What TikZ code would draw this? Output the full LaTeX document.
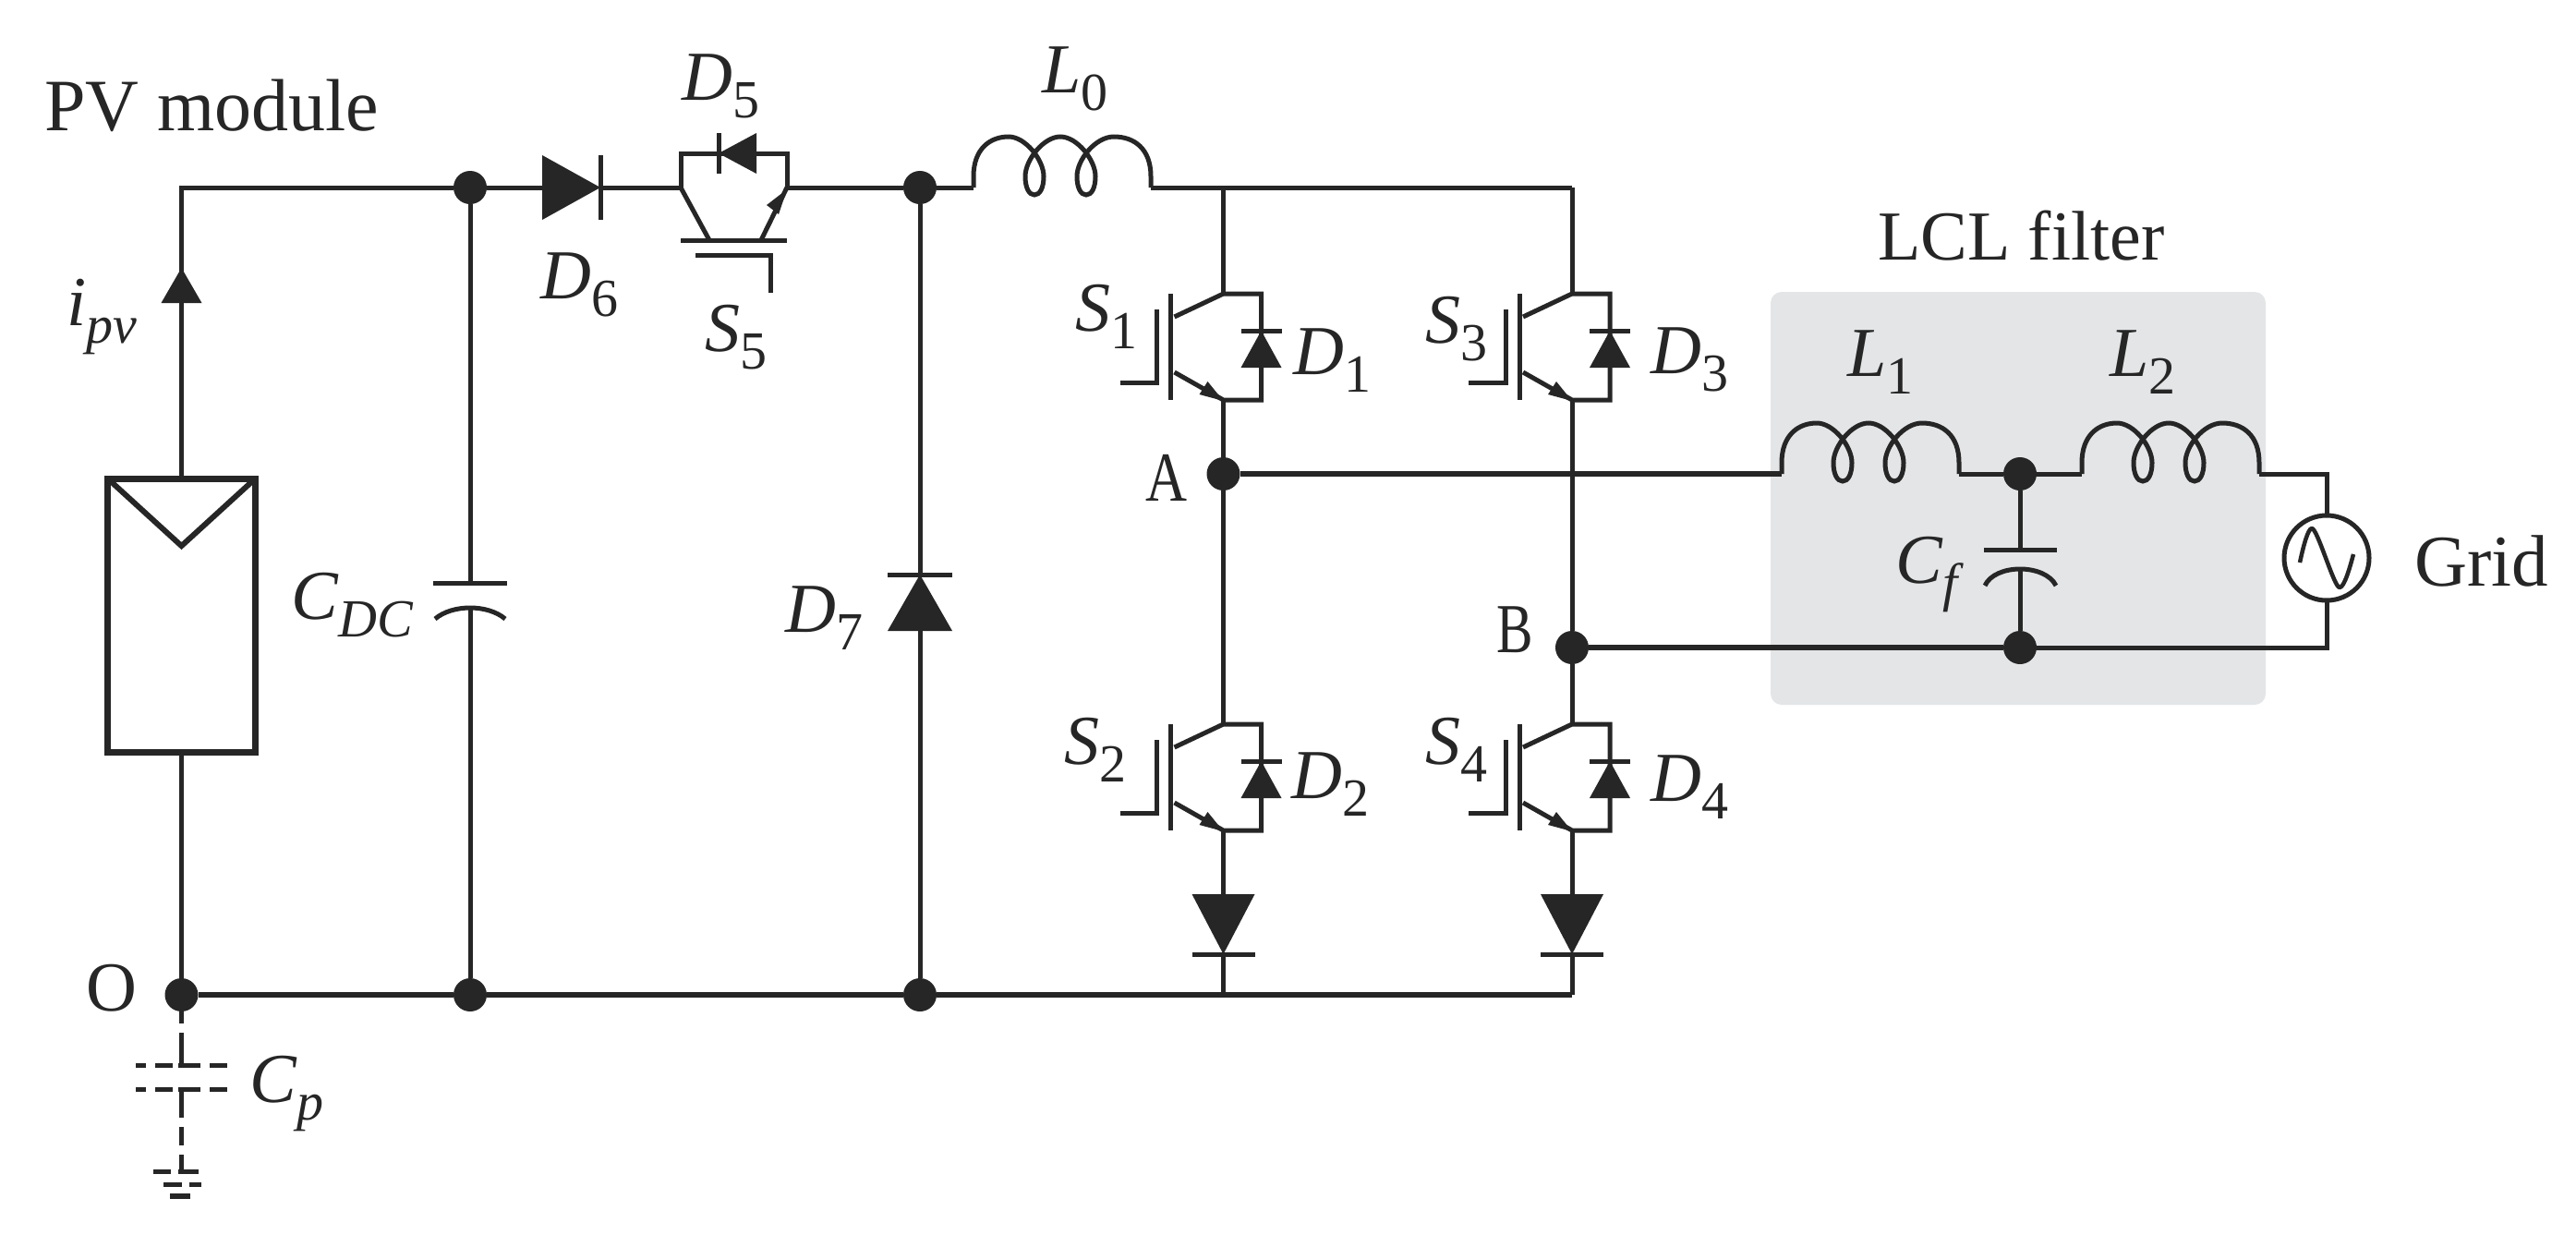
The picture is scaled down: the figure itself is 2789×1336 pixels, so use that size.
\documentclass[tikz,border=0pt]{standalone}
\usepackage{fontspec}
\usepackage{graphicx}
\setmainfont{Liberation Serif}
\definecolor{ink}{HTML}{262626}
\definecolor{filterbg}{HTML}{E3E5E7}
\newcommand{\lbl}[2]{\textit{#1}\raisebox{-19pt}{\fontsize{58}{58}\selectfont #2}}
\tikzset{
  x=1pt,y=-1pt,
  wire/.style={draw=ink,line width=5pt,line join=miter},
  hwire/.style={draw=ink,line width=6pt},
  dot/.style={circle,fill=ink,draw=none,minimum size=36pt,inner sep=0pt},
  lab/.style={anchor=base west,inner sep=0pt,text=ink,font=\fontsize{76}{76}\selectfont},
  parasitic/.style={draw=ink,line width=5pt},
  coil/.pic={
    \coordinate (-a) at (0,0); \coordinate (-b) at (192,0);
    \draw[wire] (0,0) -- (0,-12) .. controls (0,-42) and (18,-55) .. (38,-55)
      .. controls (56,-55) and (76,-30) .. (76,-12)
      .. controls (76,0) and (72,8) .. (66,8)
      .. controls (60,8) and (56,0) .. (56,-12)
      .. controls (56,-30) and (76,-55) .. (94,-55)
      .. controls (112,-55) and (132,-30) .. (132,-12)
      .. controls (132,0) and (128,8) .. (122,8)
      .. controls (116,8) and (112,0) .. (112,-12)
      .. controls (112,-30) and (132,-55) .. (152,-55)
      .. controls (174,-55) and (192,-42) .. (192,-12) -- (192,0);
  },
  pics/diodesym/.style n args={3}{code={
    \coordinate (-a) at (0,0); \coordinate (-k) at (#1,0);
    \fill[ink] (0,-#2) -- (#1,0) -- (0,#2) -- cycle;
    \draw[wire] (#1,-#3) -- (#1,#3);
  }},
  igbt/.pic={
    \coordinate (-c) at (0,0); \coordinate (-e) at (0,115);
    \draw[wire] (-57,0) -- (-57,115);
    \draw[wire] (-112,96) -- (-72,96) -- (-72,17);
    \draw[wire] (-53,25) -- (0,0) -- (41,0) -- (41,115) -- (0,115) -- (-53,85);
    \fill[ink] (0,116) -- (-17,95) -- (-26,109) -- cycle;
    \fill[ink] (19,80) -- (41,40) -- (63,80) -- cycle;
    \draw[wire] (19,40) -- (63,40);
  },
}
\begin{document}
\begin{tikzpicture}
\useasboundingbox (0,0) rectangle (2789,1336);
\fill[white] (0,0) rectangle (2789,1336);
% filter background
\fill[filterbg,rounded corners=12pt] (1917,316) rectangle (2453,763);

% junctions and free points
\node[dot] (n1) at (509,203) {};
\node[dot] (n2) at (996,203) {};
\node[dot] (O) at (196.5,1077) {};
\node[dot] (n3) at (509,1077) {};
\node[dot] (n4) at (996,1077) {};
\node[dot] (A) at (1324.5,513) {};
\node[dot] (B) at (1702,701) {};
\node[dot] (n5) at (2187,513) {};
\node[dot] (n6) at (2187,701) {};
\coordinate (corner) at (196.5,203);
\coordinate (topR) at (1702,203);
\coordinate (botM) at (1324.5,1077);
\coordinate (botR) at (1702,1077);
\coordinate (gridT) at (2519,513);
\coordinate (gridB) at (2519,701);

% PV module
\node[draw=ink,line width=7pt,outer sep=0pt,minimum width=160pt,minimum height=296pt,inner sep=0pt,anchor=north west] (pv) at (116.5,518) {};
\coordinate (apex) at (196.5,591);
\draw[draw=ink,line width=6pt] (pv.north west) -- (apex) -- (pv.north east);

% components
\pic (D6) at (587,203) {diodesym={63}{35}{35}};
\pic[rotate=180] (D5) at (819,166) {diodesym={41}{22}{22}};
\pic[rotate=90] (D7) at (996,683) {diodesym={61}{35}{35}};
\pic[rotate=-90] (D8) at (1324.5,968) {diodesym={65}{34}{34}};
\pic[rotate=-90] (D9) at (1702,968) {diodesym={65}{34}{34}};
\pic (L0) at (1054,203) {coil};
\pic (L1) at (1929,513) {coil};
\pic (L2) at (2254,513) {coil};
\pic (S1) at (1324.5,318) {igbt};
\pic (S3) at (1702,318) {igbt};
\pic (S2) at (1324.5,784) {igbt};
\pic (S4) at (1702,784) {igbt};

% S5 switch with antiparallel D5
\coordinate (S5l) at (737,203);
\coordinate (S5r) at (852,203);
\draw[wire] (S5l) -- (737,166) -- (852,166) -- (S5r);
\draw[wire] (S5l) -- (768,260);
\draw[wire] (S5r) -- (824,260);
\draw[wire] (737,260) -- (852,260);
\draw[wire] (753,276) -- (834,276) -- (834,317);
\fill[ink] (852,205) -- (830,222) -- (843,232) -- cycle;

% grid source
\node[circle,draw=ink,line width=5pt,outer sep=0pt,minimum size=92pt,inner sep=0pt] (src) at (2519,604) {};
\draw[draw=ink,line width=4.5pt,line join=round] (2490,609) .. controls (2494,590) and (2499,572) .. (2503,572)
  .. controls (2509,572) and (2527,636) .. (2533,636) .. controls (2538,636) and (2544,615) .. (2548,600);

% capacitors
\coordinate (cdcT) at (509,631);
\coordinate (cdcB) at (509,658);
\draw[wire] (469,631) -- (549,631);
\draw[wire] (471,670) .. controls (490,654) and (528,654) .. (547,670);
\coordinate (cfT) at (2187,595);
\coordinate (cfB) at (2187,616);
\draw[wire] (2148,595) -- (2227,595);
\draw[wire] (2149,634) .. controls (2160,610) and (2214,610) .. (2226,634);

% connectors
\draw[wire] (pv.north) -- (corner) -- (n1);
\draw[wire] (pv.south) -- (O);
\draw[wire] (n1) -- (cdcT);
\draw[wire] (cdcB) -- (n3);
\draw[wire] (n1) -- (D6-a);
\draw[wire] (D6-k) -- (S5l);
\draw[wire] (S5r) -- (n2);
\draw[wire] (n2) -- (L0-a);
\draw[wire] (L0-b) -- (topR);
\draw[wire] (n2) -- (D7-k);
\draw[wire] (D7-a) -- (n4);
\draw[wire] (S1-c) -- (S1-c |- topR);
\draw[wire] (S3-c) -- (topR);
\draw[wire] (S1-e) -- (A);
\draw[wire] (A) -- (S2-c);
\draw[wire] (S3-e) -- (B);
\draw[wire] (B) -- (S4-c);
\draw[wire] (S2-e) -- (D8-a);
\draw[wire] (S4-e) -- (D9-a);
\draw[wire] (D8-k) -- (botM);
\draw[wire] (D9-k) -- (botR);
\draw[hwire] (O) -- (n3) -- (n4) -- (botM) -- (botR);
\draw[hwire] (A) -- (L1-a);
\draw[wire] (L1-b) -- (n5);
\draw[wire] (n5) -- (L2-a);
\draw[wire] (L2-b) -- (gridT) -- (src.north);
\draw[hwire] (B) -- (n6);
\draw[wire] (n6) -- (gridB) -- (src.south);
\draw[wire] (n5) -- (cfT);
\draw[wire] (cfB) -- (n6);
\fill[ink] (174.5,328) -- (196.5,290) -- (218.5,328) -- cycle;

% parasitic capacitor and earth (dashed)
\draw[parasitic] (196.5,1077) -- (196.5,1108) (196.5,1118) -- (196.5,1153)
  (147,1153) -- (158,1153) (168,1153) -- (187,1153) (193,1153) -- (217,1153) (227,1153) -- (246,1153)
  (147,1179) -- (158,1179) (168,1179) -- (187,1179) (193,1179) -- (217,1179) (227,1179) -- (246,1179)
  (196.5,1179) -- (196.5,1210) (196.5,1220) -- (196.5,1240) (196.5,1250) -- (196.5,1268)
  (166,1268) -- (185,1268) (193,1268) -- (215,1268)
  (177,1282) -- (197,1282) (205,1282) -- (218,1282);
\draw[draw=ink,line width=6pt] (184,1295) -- (206,1295);

% labels
\node[lab,font=\fontsize{80}{80}\selectfont] (tPV) at (48,141) {PV module};
\node[lab] (tLCL) at (2033,281) {LCL filter};
\node[lab,font=\fontsize{79}{79}\selectfont] (tGrid) at (2614,634) {Grid};
\node[lab] (tA) at (1240,542) {\scalebox{.82}[1]{A}};
\node[lab] (tB) at (1620,706) {\scalebox{.78}[1]{B}};
\node[lab] (tO) at (93,1094) {O};
\node[lab] (tipv) at (72,352) {\lbl{i}{\textit{pv}}};
\node[lab] (tCDC) at (315,670) {\lbl{C}{\textit{DC}}};
\node[lab] (tCp) at (270,1193) {\lbl{C}{\textit{p}}};
\node[lab] (tCf) at (2052,631) {\lbl{C}{\textit{f}}};
\node[lab] (tD5) at (738,108) {\lbl{D}{5}};
\node[lab] (tD6) at (585,323) {\lbl{D}{6}};
\node[lab] (tD7) at (850,684) {\lbl{D}{7}};
\node[lab] (tS5) at (763,380) {\lbl{S}{5}};
\node[lab] (tL0) at (1128,100) {\lbl{L}{0}};
\node[lab] (tL1) at (2000,407) {\lbl{L}{1}};
\node[lab] (tL2) at (2284,407) {\lbl{L}{2}};
\node[lab] (tS1) at (1164,358) {\lbl{S}{1}};
\node[lab] (tD1) at (1400,405) {\lbl{D}{1}};
\node[lab] (tS3) at (1543,371) {\lbl{S}{3}};
\node[lab] (tD3) at (1787,404) {\lbl{D}{3}};
\node[lab] (tS2) at (1152,827) {\lbl{S}{2}};
\node[lab] (tD2) at (1398,864) {\lbl{D}{2}};
\node[lab] (tS4) at (1543,827) {\lbl{S}{4}};
\node[lab] (tD4) at (1787,867) {\lbl{D}{4}};
\end{tikzpicture}
\end{document}
